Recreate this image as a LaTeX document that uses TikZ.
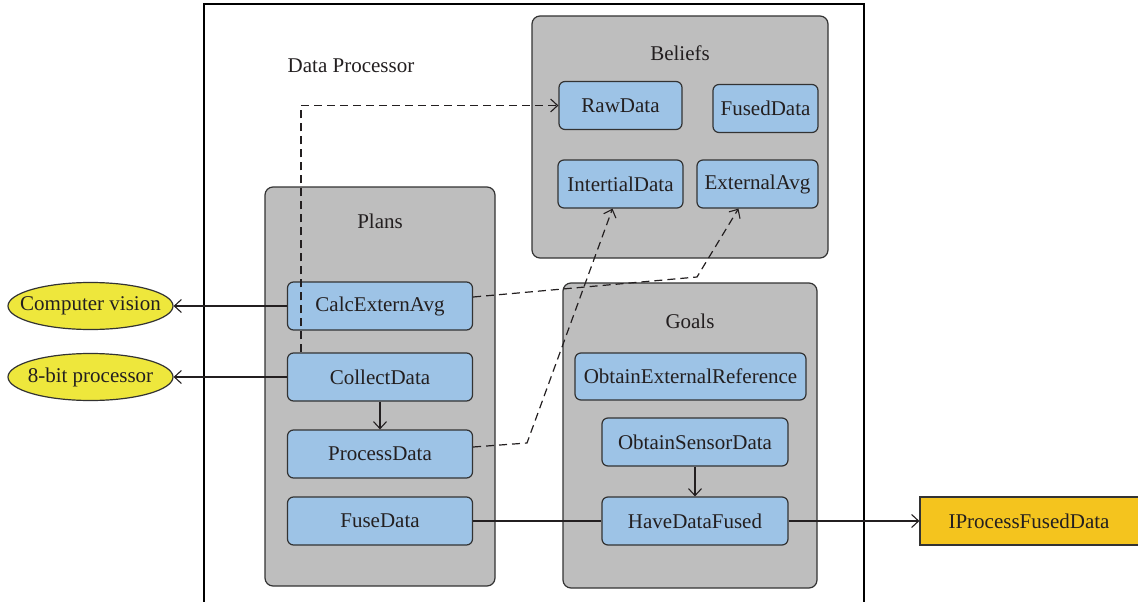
\documentclass[tikz,border=0pt]{standalone}
\usepackage{fontspec}
\setmainfont{Liberation Serif}
\usetikzlibrary{arrows.meta,shapes.geometric,calc}

\definecolor{panelgray}{HTML}{BEBEBE}
\definecolor{itemblue}{HTML}{9DC3E6}
\definecolor{extyellow}{HTML}{EEE73C}
\definecolor{ifaceorange}{HTML}{F4C41E}
\definecolor{edgegray}{HTML}{333333}
\definecolor{inkcol}{HTML}{231F20}

\tikzset{
  panel/.style={draw=edgegray, fill=panelgray, line width=1.2pt, rounded corners=8pt,
                inner sep=0pt},
  item/.style={draw=edgegray, fill=itemblue, line width=1.2pt, rounded corners=6pt,
               minimum height=48pt, inner sep=0pt, text=inkcol},
  external/.style={ellipse, draw=edgegray, fill=extyellow, line width=1.2pt,
                   minimum width=165pt, minimum height=47pt, inner xsep=-13pt,
                   inner ysep=0pt, text=inkcol},
  iface/.style={draw=edgegray, fill=ifaceorange, line width=1.2pt,
                minimum height=48pt, inner sep=0pt, text=inkcol},
  caption/.style={text=inkcol, inner sep=0pt},
  tip/.style={-{Straight Barb[length=7pt,width=13pt,line width=1.1pt]}},
  conn/.style={draw=inkcol, line width=1.2pt, tip},
  plainconn/.style={draw=inkcol, line width=1.2pt},
  dconn/.style={draw=inkcol, line width=1.2pt, dash pattern=on 8pt off 5pt, tip},
}

\begin{document}
\begin{tikzpicture}[x=1pt, y=-1pt, font=\fontsize{21}{25}\selectfont]
\useasboundingbox (0,0) rectangle (1138,602);

% enclosing data processor (open below the page edge)
\node[draw=black, line width=1.3pt, minimum width=660pt, minimum height=616pt,
      inner sep=0pt] (dp) at (534,312) {};
\node[caption] (dptitle) at (351,66) {Data Processor};

% panels
\node[panel, minimum width=296pt, minimum height=242pt] (beliefs) at (680,137) {};
\node[panel, minimum width=230pt, minimum height=399pt] (plans) at (380,386.5) {};
\node[panel, minimum width=254pt, minimum height=305pt] (goals) at (690,435.5) {};

\node[caption] (beliefstitle) at (680,53) {Beliefs};
\node[caption] (planstitle) at (380,221) {Plans};
\node[caption] (goalstitle) at (690,321) {Goals};

% beliefs
\node[item, minimum width=123pt] (raw) at (620.5,105.5) {RawData};
\node[item, minimum width=105pt] (fused) at (765.5,108.5) {FusedData};
\node[item, minimum width=125pt] (inert) at (620.5,184) {IntertialData};
\node[item, minimum width=121pt] (extavg) at (757.5,184) {ExternalAvg};

% plans
\node[item, minimum width=185pt] (calc) at (380,306) {CalcExternAvg};
\node[item, minimum width=185pt] (collect) at (380,377) {CollectData};
\node[item, minimum width=185pt] (process) at (380,454) {ProcessData};
\node[item, minimum width=185pt] (fuse) at (380,521) {FuseData};

% goals
\node[item, minimum width=231pt, minimum height=47pt] (oer) at (690.5,376.5) {ObtainExternalReference};
\node[item, minimum width=186pt] (osd) at (695,442) {ObtainSensorData};
\node[item, minimum width=186pt] (hdf) at (695,521) {HaveDataFused};

% external parties
\node[external] (vision) at (90.5,306) {Computer vision};
\node[external] (proc8) at (90.5,377) {8-bit processor};
\node[iface, minimum width=226pt] (ipfd) at (1033,521) {\hspace*{-8pt}IProcessFusedData};

% bend points of the dashed links
\coordinate (bendA) at (697,277);
\coordinate (bendB) at (527,443);

% solid links
\draw[conn] (calc.west) -- (vision.east);
\draw[conn] (collect.west) -- (proc8.east);
\draw[conn] (collect.south) -- (process.north);
\draw[conn] (osd.south) -- (hdf.north);
\draw[plainconn] (fuse.east) -- (hdf.west);
\draw[conn] (hdf.east) -- (ipfd.west);

% dashed links into the beliefs
\draw[dconn] ([xshift=-79pt]collect.north) |- (raw.west);
\draw[dconn] ([yshift=9pt]calc.east) -- (bendA) -- ([xshift=-19pt]extavg.south);
\draw[dconn] ([yshift=7pt]process.east) -- (bendB) -- ([xshift=-8pt]inert.south);
\end{tikzpicture}
\end{document}
